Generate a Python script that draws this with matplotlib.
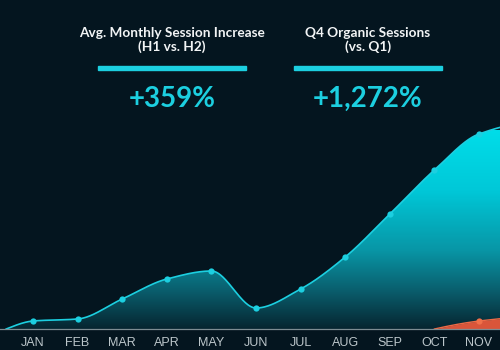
import matplotlib
matplotlib.use('Agg')
import matplotlib.pyplot as plt
import numpy as np
from matplotlib.colors import LinearSegmentedColormap
from matplotlib.patches import Rectangle

# monthly organic sessions (the curve starts a little before JAN at zero)
months = ['JAN', 'FEB', 'MAR', 'APR', 'MAY', 'JUN', 'JUL', 'AUG', 'SEP', 'OCT', 'NOV', 'DEC']
sessions = [400, 500, 1500, 2500, 2900, 1050, 2000, 3600, 5750, 7950, 9750, 10250]
start_x = -0.6
start_value = 0

# second (orange) series, only from OCT on
other_months = ['OCT', 'NOV', 'DEC']
other_sessions = [0, 400, 600]

kpi_titles = ['Avg. Monthly Session Increase\n(H1 vs. H2)', 'Q4 Organic Sessions\n(vs. Q1)']
kpi_values = ['+359%', '+1,272%']

BG = '#04151f'
CYAN = '#1ccfe0'


def pchip(x, y, xs):
    x = np.asarray(x, float)
    y = np.asarray(y, float)
    h = np.diff(x)
    d = np.diff(y) / h
    n = len(x)
    m = np.zeros(n)
    for k in range(1, n - 1):
        if d[k - 1] * d[k] > 0:
            w1 = 2 * h[k] + h[k - 1]
            w2 = h[k] + 2 * h[k - 1]
            m[k] = (w1 + w2) / (w1 / d[k - 1] + w2 / d[k])

    def edge(h0, h1, d0, d1):
        v = ((2 * h0 + h1) * d0 - h0 * d1) / (h0 + h1)
        if np.sign(v) != np.sign(d0):
            return 0.0
        if np.sign(d0) != np.sign(d1) and abs(v) > abs(3 * d0):
            return 3 * d0
        return v

    if n > 2:
        m[0] = edge(h[0], h[1], d[0], d[1])
        m[-1] = edge(h[-1], h[-2], d[-1], d[-2])
    else:
        m[:] = d[0]
    idx = np.clip(np.searchsorted(x, xs) - 1, 0, n - 2)
    t = (xs - x[idx]) / h[idx]
    h00 = 2 * t**3 - 3 * t**2 + 1
    h10 = t**3 - 2 * t**2 + t
    h01 = -2 * t**3 + 3 * t**2
    h11 = t**3 - t**2
    return h00 * y[idx] + h10 * h[idx] * m[idx] + h01 * y[idx + 1] + h11 * h[idx] * m[idx + 1]


fig = plt.figure(figsize=(5, 3.5), dpi=100, facecolor=BG)
ax = fig.add_axes([0, 0, 1, 1])
ax.set_facecolor(BG)

x = np.arange(len(months))
xk = np.concatenate([[start_x], x])
yk = np.concatenate([[start_value], sessions])
xs = np.linspace(xk[0], xk[-1], 600)
ys = pchip(xk, yk, xs)

ymin, ymax = -1050, 16450
xmin, xmax = -0.74, 10.47

# gradient fill clipped to the area under the curve
poly = ax.fill_between(xs, 0, ys, color='none', lw=0)
grad = LinearSegmentedColormap.from_list('g', [
    (0.0, '#062530'), (39 / 199, '#0a5f6e'), (79 / 199, '#0896a6'),
    (139 / 199, '#00c8d8'), (1.0, '#00dde9')])
vals = np.linspace(0, 1, 256).reshape(-1, 1)
img = ax.imshow(vals, cmap=grad, origin='lower', aspect='auto',
                extent=[xmin, xmax + 1, 0, 9950], zorder=1)
img.set_clip_path(poly.get_paths()[0], transform=ax.transData)

ax.plot(xs, ys, color=CYAN, lw=1.2, zorder=3)
ax.plot(x, sessions, 'o', color=CYAN, ms=4.5, mec='none', zorder=4)

# orange series
ox = np.array([months.index(m) for m in other_months])
oxs = np.linspace(ox[0], ox[-1], 200)
oys = pchip(ox, other_sessions, oxs)
ax.fill_between(oxs, 0, oys, color='#d9553a', lw=0, zorder=5)
ax.plot(oxs, oys, color='#ee6a46', lw=1.0, zorder=6)
ax.plot(ox[1:], other_sessions[1:], 'o', color='#f0704a', ms=4.5, mec='none', zorder=7)

ax.axhline(0, color='#7d8c92', lw=0.9, zorder=8)

# month labels, only the ones inside the visible range
for i, m in enumerate(months):
    if xmin < i < xmax:
        ax.text(i, -720, m, ha='center', va='center', fontsize=9,
                color='#bcc6ca', family='Liberation Sans')

ax.set_xlim(xmin, xmax)
ax.set_ylim(ymin, ymax)
ax.axis('off')

# KPI headers
centers = [172, 368]
for cx, title, value in zip(centers, kpi_titles, kpi_values):
    fig.text(cx / 500, 1 - 40 / 350, title, ha='center', va='center',
             fontsize=9.8, fontweight='bold', color='#f2f4f5', family='Lato',
             linespacing=1.2)
    fig.patches.append(Rectangle(((cx - 74) / 500, 1 - 70 / 350), 148 / 500, 4 / 350,
                                 transform=fig.transFigure, color=CYAN, zorder=10))
    fig.text(cx / 500, 1 - 99 / 350, value, ha='center', va='center',
             fontsize=20, fontweight='bold', color=CYAN, family='Lato')

fig.savefig('out.png', dpi=100, facecolor=BG)
